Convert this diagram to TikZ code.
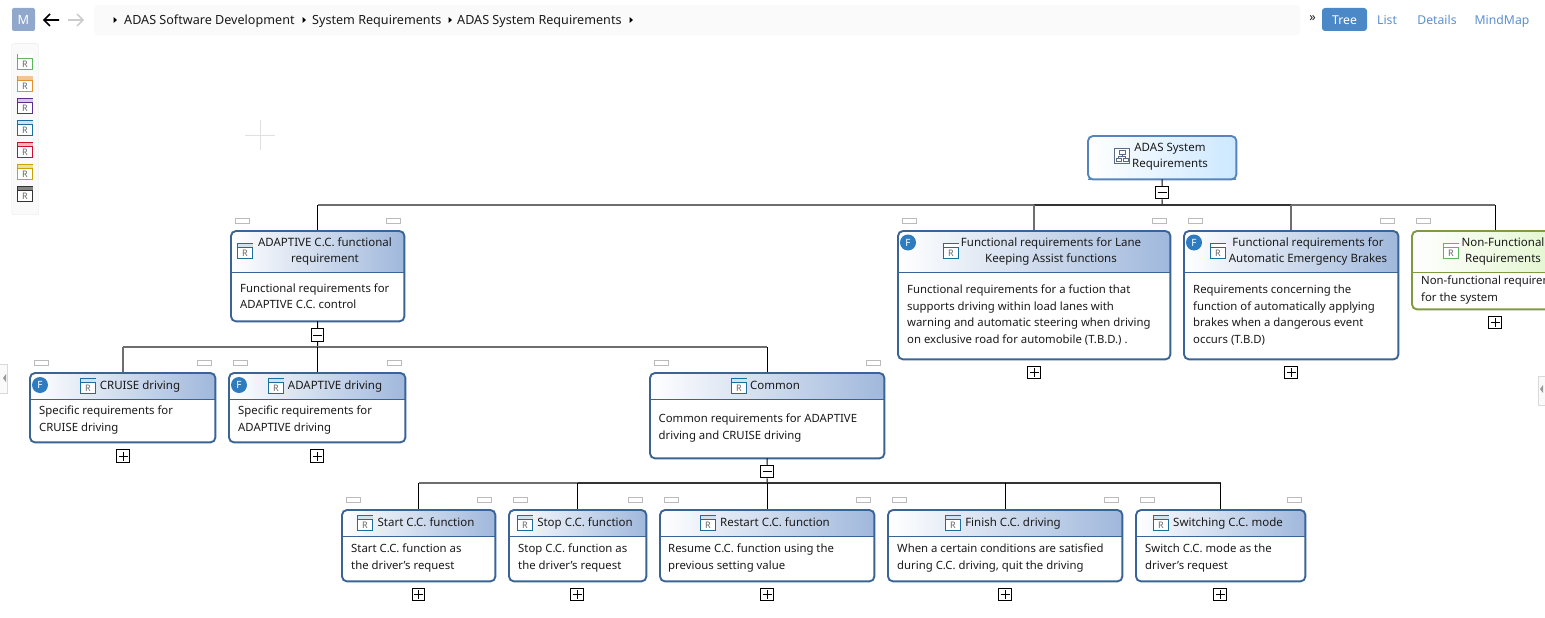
\documentclass[tikz,border=0pt]{standalone}
\usepackage{fontspec}
\setmainfont{Noto Sans}
\usetikzlibrary{arrows,positioning}

\definecolor{reqline}{HTML}{3A6496}
\definecolor{reqhead}{HTML}{A0B8DC}
\definecolor{rootline}{HTML}{5585BD}
\definecolor{roothead}{HTML}{CDE8FF}
\definecolor{nfline}{HTML}{7F9A3F}
\definecolor{nfhead}{HTML}{DFF5C8}
\definecolor{inktext}{HTML}{1A1A1A}
\definecolor{busgray}{HTML}{6E6E6E}
\definecolor{busdark}{HTML}{333333}
\definecolor{tabgray}{HTML}{BBBBBB}
\definecolor{barbg}{HTML}{FAFAFA}
\definecolor{barline}{HTML}{E8E8E8}
\definecolor{linkblue}{HTML}{5B8FD0}
\definecolor{treeblue}{HTML}{4A88C7}
\definecolor{flagblue}{HTML}{2F7BBF}
\definecolor{mblue}{HTML}{8FA8CC}
\definecolor{icongreen}{HTML}{5CB85C}
\definecolor{iconorange}{HTML}{E09030}
\definecolor{iconpurple}{HTML}{5A2D91}
\definecolor{iconblue}{HTML}{1B6E9E}
\definecolor{iconred}{HTML}{C8102E}
\definecolor{iconyellow}{HTML}{C9A400}
\definecolor{icondark}{HTML}{333333}
\definecolor{icongray}{HTML}{5A6B85}

\tikzset{font=\fontsize{11.5}{16.5}\selectfont}
\tikzset{every node/.append style={text=inktext,inner sep=0pt}}
\tikzset{headtext/.style={align=center,yshift=-1pt}}
\tikzset{oneline/.style={text height=10pt,text depth=2pt}}
\tikzset{bodytext/.style={align=left,anchor=west,yshift=-1pt,font=\fontsize{11.35}{16.5}\selectfont}}
\tikzset{crumb/.style={anchor=west,oneline,font=\fontsize{12.6}{16}\selectfont}}
\tikzset{tablink/.style={oneline,text=linkblue,font=\fontsize{12.2}{16}\selectfont}}
\tikzset{drop/.style={draw=black,line width=1pt}}
\tikzset{dropgray/.style={draw=busgray,line width=1.7pt}}
\tikzset{dropdark/.style={draw=busdark,line width=1.7pt}}
\tikzset{toggle/.style={draw=black,fill=white,line width=1pt,minimum size=12.5pt}}
\tikzset{iconbox/.style={fill=white,line width=1.1pt,minimum size=15pt}}

% name, left, top, right, bottom, bottom of header
\newcommand{\reqbox}[7][req]{
  \node[fill=white,anchor=north west,rounded corners=5pt,
        minimum width={(#5-#3)*1pt},minimum height={(#6-#4)*1pt}] (#2) at (#3,#4) {};
  \shade[left color=white,right color=#1head] (#3,#7) [rounded corners=5pt] -- (#3,#4) -- (#5,#4) [sharp corners] -- (#5,#7) -- cycle;
  \draw[#1line,line width=.9pt] (#3,#7)--(#5,#7);
  \draw[#1line,line width=1.9pt,rounded corners=5pt] (#2.north west) rectangle (#2.south east);
}
\newcommand{\reqtabs}[3]{
  \draw[tabgray,fill=white,line width=.7pt] (#1+4,#3-13) rectangle (#1+18,#3-8);
  \draw[tabgray,fill=white,line width=.7pt] (#2-18,#3-13) rectangle (#2-4,#3-8);
}
% name, x, y, line colour, band colour
\newcommand{\reqicon}[5]{
  \node[iconbox,draw=#4] (#1) at (#2+8,#3+8) {};
  \fill[#5] (#2+.5,#3+.5) rectangle (#2+15.5,#3+4);
  \draw[#4,line width=.8pt] (#2,#3+4)--(#2+16,#3+4);
  \node[text=black!60,font=\fontsize{9}{9}\selectfont] (#1 R) at (#2+8,#3+10) {R};
}
\newcommand{\plusbox}[3]{
  \node[toggle] (#1) at (#2,#3) {};
  \draw[line width=1pt] (#2-4.5,#3)--(#2+4.5,#3) (#2,#3-4.5)--(#2,#3+4.5);
}
\newcommand{\minusbox}[3]{
  \node[toggle] (#1) at (#2,#3) {};
  \draw[line width=1pt] (#2-4.5,#3)--(#2+4.5,#3);
}
\newcommand{\flag}[3]{
  \node[circle,fill=flagblue,minimum size=16pt,text=white,font=\fontsize{10}{10}\selectfont] (#1) at (#2,#3) {F};
}

\begin{document}
\begin{tikzpicture}[x=1pt,y=-1pt]
  \useasboundingbox (0,0) rectangle (1545,618);
  \clip (0,0) rectangle (1545,618);

  % top bar
  \node[fill=mblue,rounded corners=2pt,minimum size=23pt,text=white,font=\fontsize{12.7}{16}\selectfont] (mbox) at (23.5,19.5) {M};
  \draw[line width=1.7pt] (50,14)--(44,20)--(50,26) (44,20)--(59,20);
  \draw[black!20,line width=1.7pt] (77,14)--(83,20)--(77,26) (83,20)--(68,20);
  \node[fill=barbg,rounded corners=4pt,anchor=north west,minimum width=1206pt,minimum height=30pt] (crumbbar) at (94,5) {};
  \foreach \x in {113.5,302.5,448.5,629.5}{
    \fill (\x,17)--(\x+3.5,20)--(\x,23)--cycle;
  };
  \node[crumb] (crumb1) at (124,20.5) {ADAS Software Development};
  \node[crumb] (crumb2) at (312,20.5) {System Requirements};
  \node[crumb] (crumb3) at (457,20.5) {ADAS System Requirements};
  \node[font=\fontsize{12.7}{16}\selectfont] (more) at (1312.5,18.5) {»};
  \node[tablink,text height=11pt,text depth=1pt,fill=treeblue,rounded corners=3pt,minimum width=45pt,minimum height=23pt,text=white] (tree) at (1344.5,19.5) {Tree};
  \node[tablink] (list) at (1387,21) {List};
  \node[tablink] (details) at (1437,21) {Details};
  \node[tablink] (mindmap) at (1502,21) {MindMap};

  % palette
  \node[fill=barbg,draw=barline,rounded corners=2pt,anchor=north west,minimum width=27pt,minimum height=171pt] (palette) at (11.5,43.5) {};
  \foreach \n/\y/\c/\b in {a/54/icongreen/white,b/76/iconorange/iconorange!50,
                           c/98/iconpurple/iconpurple!25,d/120/iconblue/iconblue!20,
                           e/142/iconred/iconred!30,f/164/iconyellow/iconyellow!35,
                           g/186/icondark/icondark!60}{
    \reqicon{pal\n}{17}{\y}{\c}{\b}
  };
  \draw[black!12] (245,135)--(275,135) (260,120)--(260,150);

  % side handles
  \node[fill=barbg,draw=black!15,anchor=north west,minimum width=8pt,minimum height=29pt] (lefthandle) at (-1,363.5) {};
  \fill[black!40] (6,374)--(3,378)--(6,382)--cycle;
  \node[fill=barbg,draw=black!15,anchor=north west,minimum width=10pt,minimum height=29pt] (righthandle) at (1537.5,375.5) {};
  \fill[black!40] (1543,385)--(1540,389)--(1543,393)--cycle;

  % the boxes
  \reqbox[root]{root}{1088}{136}{1236}{179}{179}
  \reqbox{adaptive}{231}{231}{404}{321}{272}
  \reqbox{lkas}{898}{231}{1170}{359}{272}
  \reqbox{aeb}{1184}{231}{1398}{359}{272}
  \reqbox[nf]{nonfunc}{1412}{231}{1578}{309}{272}
  \reqbox{cruise}{30}{373}{215}{442}{399}
  \reqbox{adriving}{229}{373}{405}{442}{399}
  \reqbox{common}{650}{373}{884}{458}{399}
  \reqbox{start}{342}{510}{495}{581}{536}
  \reqbox{stop}{509}{510}{646}{581}{536}
  \reqbox{restart}{660}{510}{874}{581}{536}
  \reqbox{finish}{888}{510}{1122}{581}{536}
  \reqbox{switch}{1136}{510}{1305}{581}{536}
  \foreach \l/\r/\t in {231/404/231,898/1170/231,1184/1398/231,1412/1578/231,30/215/373,229/405/373,
                        650/884/373,342/495/510,509/646/510,660/874/510,888/1122/510,1136/1305/510}{
    \reqtabs{\l}{\r}{\t}
  };

  % the toggles
  \minusbox{rootminus}{1162}{192.5}
  \minusbox{adaptiveminus}{317.5}{335}
  \minusbox{commonminus}{767}{471.5}
  \plusbox{lkasplus}{1034}{372.5}
  \plusbox{aebplus}{1291}{372.5}
  \plusbox{nonfuncplus}{1495}{322.5}
  \plusbox{cruiseplus}{123}{456}
  \plusbox{adrivingplus}{317}{456}
  \plusbox{startplus}{418.5}{594.5}
  \plusbox{stopplus}{577}{594.5}
  \plusbox{restartplus}{767}{594.5}
  \plusbox{finishplus}{1005}{594.5}
  \plusbox{switchplus}{1220}{594.5}

  % connectors
  \coordinate (rootbus) at (rootminus |- 0,205);
  \coordinate (adaptivebus) at (adaptiveminus |- 0,347);
  \coordinate (commonbus) at (commonminus |- 0,483);
  \draw[drop] (root.south)--(rootminus.north) (rootminus.south)--(rootbus);
  \draw[drop] (adaptive.south)--(adaptiveminus.north) (adaptiveminus.south)--(adaptivebus);
  \draw[drop] (common.south)--(commonminus.north) (commonminus.south)--(commonbus);

  \draw[dropgray] (adaptive.north |- rootbus)--(lkas.north |- rootbus);
  \draw[dropgray] (aeb.north |- rootbus)--(1495,205);
  \draw[dropdark] (lkas.north |- rootbus)--(aeb.north |- rootbus);
  \draw[drop,shorten >=1pt] (adaptive.north |- rootbus)--(adaptive.north);
  \draw[dropgray,shorten >=1pt] (lkas.north |- rootbus)--(lkas.north);
  \draw[dropgray,shorten >=1pt] (aeb.north |- rootbus)--(aeb.north);
  \draw[drop,shorten >=1pt] (1495,205)--(1495,231);

  \draw[dropgray] (cruise.north |- adaptivebus)--(common.north |- adaptivebus);
  \draw[dropgray,shorten >=1pt] (cruise.north |- adaptivebus)--(cruise.north);
  \draw[drop,shorten >=1pt] (adriving.north |- adaptivebus)--(adriving.north);
  \draw[drop,shorten >=1pt] (common.north |- adaptivebus)--(common.north);

  \draw[dropgray] (start.north |- commonbus)--(stop.north |- commonbus);
  \draw[dropdark] (stop.north |- commonbus)--(switch.north |- commonbus);
  \foreach \n in {start,stop,restart,finish,switch}{
    \draw[drop,shorten >=1pt] (\n.north |- commonbus)--(\n.north);
  };

  % icons and flags
  \node[draw=icongray,fill=white,line width=1.1pt,minimum size=15pt] (rooticon) at (1122,156) {};
  \draw[icongray,line width=.9pt] (1119,150.5) rectangle (1125,154) (1116,158.5) rectangle (1121,161.5) (1123,158.5) rectangle (1128,161.5)
     (1122,154)--(1122,156.5) (1118.5,158.5)--(1118.5,156.5)--(1125.5,156.5)--(1125.5,158.5);
  \reqicon{adaptiveicon}{237}{243}{iconblue}{iconblue!20}
  \reqicon{lkasicon}{943}{243}{iconblue}{white}
  \reqicon{aebicon}{1210}{243}{iconblue}{white}
  \reqicon{nonfuncicon}{1443}{243}{icongreen}{white}
  \reqicon{cruiseicon}{80}{378}{iconblue}{iconblue!20}
  \reqicon{adrivingicon}{268}{378}{iconblue}{iconblue!20}
  \reqicon{commonicon}{731}{378}{iconblue}{iconblue!20}
  \reqicon{starticon}{357}{515}{iconblue}{iconblue!20}
  \reqicon{stopicon}{517}{515}{iconblue}{iconblue!20}
  \reqicon{restarticon}{700}{515}{iconblue}{iconblue!20}
  \reqicon{finishicon}{945}{515}{iconblue}{iconblue!20}
  \reqicon{switchicon}{1153}{515}{iconblue}{iconblue!20}
  \flag{lkasflag}{908}{242.5}
  \flag{aebflag}{1194}{242.5}
  \flag{cruiseflag}{40}{385}
  \flag{adrivingflag}{239}{385}

  % titles
  \node[headtext] (roottitle) at (1170,155.5) {ADAS System\\Requirements};
  \node[headtext] (adaptivetitle) at (325,250.5) {ADAPTIVE C.C. functional\\requirement};
  \node[headtext] (lkastitle) at (1051,250.5) {Functional requirements for Lane\\Keeping Assist functions};
  \node[headtext] (aebtitle) at (1308,250.5) {Functional requirements for\\Automatic Emergency Brakes};
  \node[headtext] (nonfunctitle) at (1503,250.5) {Non-Functional\\Requirements};
  \node[oneline] (cruisetitle) at (140,385) {CRUISE driving};
  \node[oneline] (adrivingtitle) at (335,385) {ADAPTIVE driving};
  \node[oneline] (commontitle) at (775,385) {Common};
  \node[oneline] (starttitle) at (426,522) {Start C.C. function};
  \node[oneline] (stoptitle) at (585,522) {Stop C.C. function};
  \node[oneline] (restarttitle) at (775,522) {Restart C.C. function};
  \node[oneline] (finishtitle) at (1013,522) {Finish C.C. driving};
  \node[oneline] (switchtitle) at (1228,522) {Switching C.C. mode};

  % bodies
  \node[bodytext] (adaptivebody) at (240,295) {Functional requirements for\\ADAPTIVE C.C. control};
  \node[bodytext] (lkasbody) at (907,314) {Functional requirements for a fuction that\\supports driving within load lanes with\\warning and automatic steering when driving\\on exclusive road for automobile (T.B.D.) .};
  \node[bodytext] (aebbody) at (1193,314) {Requirements concerning the\\function of automatically applying\\brakes when a dangerous event\\occurs (T.B.D)};
  \node[bodytext] (nonfuncbody) at (1421,289) {Non-functional requirements\\for the system};
  \node[bodytext] (cruisebody) at (39,419) {Specific requirements for\\CRUISE driving};
  \node[bodytext] (adrivingbody) at (238,419) {Specific requirements for\\ADAPTIVE driving};
  \node[bodytext] (commonbody) at (658.5,427) {Common requirements for ADAPTIVE\\driving and CRUISE driving};
  \node[bodytext] (startbody) at (351,557) {Start C.C. function as\\the driver's request};
  \node[bodytext] (stopbody) at (518,557) {Stop C.C. function as\\the driver's request};
  \node[bodytext] (restartbody) at (668,557) {Resume C.C. function using the\\previous setting value};
  \node[bodytext] (finishbody) at (897,557) {When a certain conditions are satisfied\\during C.C. driving, quit the driving};
  \node[bodytext] (switchbody) at (1145,557) {Switch C.C. mode as the\\driver's request};
\end{tikzpicture}
\end{document}
